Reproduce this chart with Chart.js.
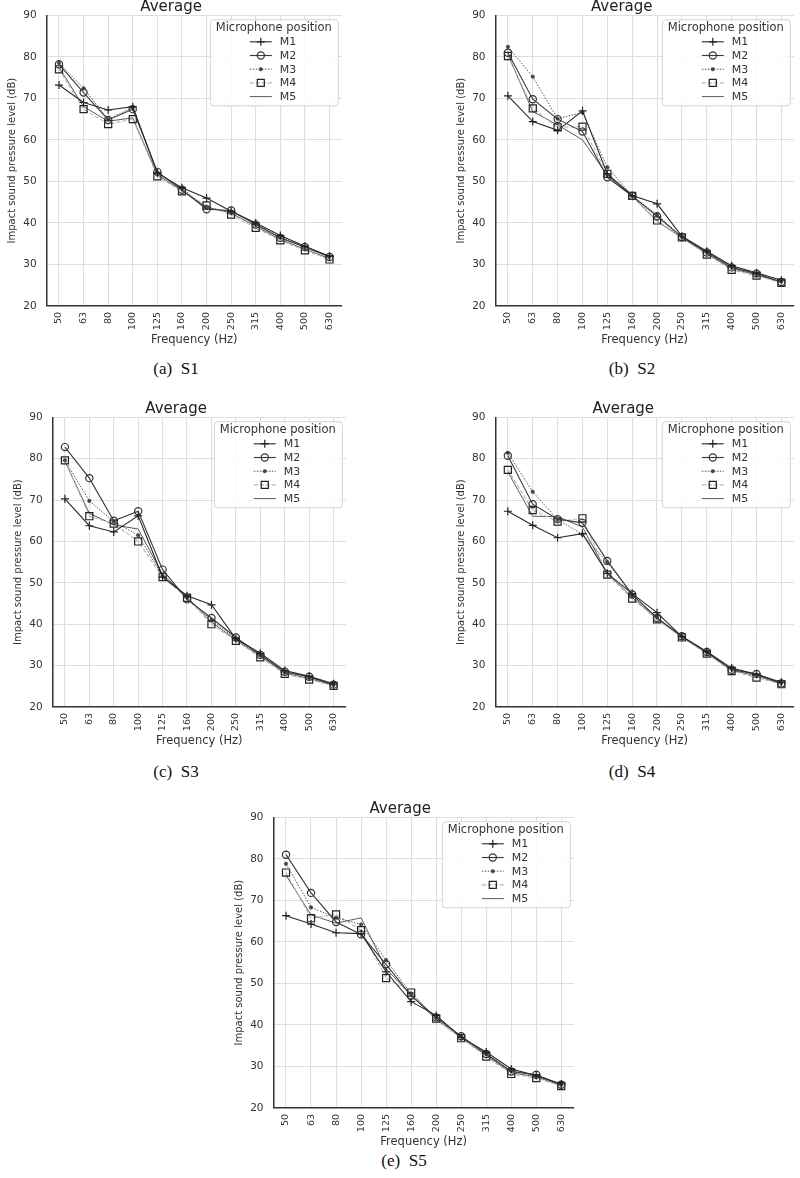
<!DOCTYPE html>
<html>
<head>
<meta charset="utf-8">
<script src="https://cdn.jsdelivr.net/npm/chart.js@4.4.1/dist/chart.umd.min.js"></script>
<style>
  html, body { margin: 0; padding: 0; background: #fff; }
  body { position: relative; width: 800px; height: 1178px; overflow: hidden; }
  canvas { position: absolute; }
  .cap { position: absolute; font-family: "Liberation Serif", "Times New Roman", serif; font-size: 17px;
         line-height: 20px; color: #111; white-space: pre; transform: translateX(-50%); }
</style>
</head>
<body>
<script>
// frequency bands (Hz)
const freqs = ['50', '63', '80', '100', '125', '160', '200', '250', '315', '400', '500', '630'];
const micNames = ['M1', 'M2', 'M3', 'M4', 'M5'];

// S1
const s1M1 = [73.2, 69.0, 67.2, 68.0, 52.0, 48.5, 46.0, 42.8, 40.0, 37.0, 34.4, 32.0];
const s1M2 = [78.2, 71.4, 64.8, 67.4, 52.3, 48.0, 43.3, 43.0, 39.6, 36.4, 34.2, 31.8];
const s1M3 = [78.5, 72.4, 65.0, 67.8, 52.2, 48.3, 43.6, 42.8, 39.8, 36.6, 34.2, 31.9];
const s1M4 = [77.0, 67.4, 63.8, 65.0, 51.2, 47.6, 44.2, 42.0, 38.8, 35.8, 33.4, 31.2];
const s1M5 = [77.5, 68.0, 64.5, 65.3, 51.6, 47.8, 43.8, 42.4, 39.2, 36.0, 33.7, 31.4];
// S2
const s2M1 = [70.6, 64.4, 62.3, 67.0, 51.8, 46.6, 44.6, 36.8, 33.2, 29.7, 28.0, 26.2];
const s2M2 = [81.0, 69.8, 65.0, 62.0, 51.0, 46.5, 41.6, 36.6, 32.9, 29.3, 27.8, 25.8];
const s2M3 = [82.4, 75.2, 65.1, 66.6, 53.4, 46.5, 42.0, 36.6, 33.0, 29.4, 27.7, 25.9];
const s2M4 = [80.2, 67.6, 63.0, 63.2, 51.8, 46.5, 40.6, 36.5, 32.4, 28.7, 27.3, 25.6];
const s2M5 = [80.5, 66.8, 63.6, 60.0, 51.5, 46.4, 40.4, 36.4, 32.6, 29.0, 27.5, 25.7];
// S3
const s3M1 = [70.3, 63.8, 62.3, 66.2, 51.4, 46.9, 44.7, 36.5, 33.0, 28.8, 27.4, 25.6];
const s3M2 = [82.8, 75.3, 65.0, 67.3, 53.2, 46.0, 41.5, 36.8, 32.6, 28.5, 27.3, 25.4];
const s3M3 = [79.6, 69.8, 64.8, 61.5, 51.6, 46.5, 41.0, 36.5, 32.5, 28.4, 27.2, 25.3];
const s3M4 = [79.6, 66.1, 64.3, 60.0, 51.4, 46.4, 40.0, 36.0, 32.0, 28.0, 26.6, 25.1];
const s3M5 = [79.4, 66.8, 64.0, 63.0, 52.0, 46.6, 40.5, 36.2, 32.3, 28.2, 26.9, 25.2];
// S4
const s4M1 = [67.3, 63.9, 60.9, 61.9, 52.3, 47.4, 42.8, 37.0, 33.4, 29.4, 27.9, 26.0];
const s4M2 = [80.7, 69.0, 65.4, 64.5, 55.3, 47.2, 41.5, 37.1, 33.3, 29.0, 28.0, 25.7];
const s4M3 = [81.4, 72.0, 65.3, 61.7, 55.0, 47.0, 41.6, 37.0, 33.2, 29.2, 27.8, 25.8];
const s4M4 = [77.3, 67.6, 64.8, 65.6, 52.0, 46.2, 41.2, 36.8, 32.9, 28.7, 27.1, 25.5];
const s4M5 = [76.8, 66.1, 66.0, 63.5, 52.3, 46.5, 41.3, 36.9, 33.0, 28.9, 27.5, 25.6];
// S5
const s5M1 = [66.3, 64.3, 62.2, 62.0, 52.8, 45.6, 42.3, 37.0, 33.5, 29.4, 27.8, 25.8];
const s5M2 = [81.0, 71.8, 64.8, 61.8, 54.6, 47.0, 41.8, 37.3, 33.0, 28.8, 28.0, 25.6];
const s5M3 = [78.8, 68.3, 65.8, 64.2, 55.6, 47.5, 41.7, 37.2, 33.0, 28.9, 27.8, 25.6];
const s5M4 = [76.7, 65.7, 66.6, 62.8, 51.3, 47.8, 41.5, 36.8, 32.4, 28.2, 27.2, 25.3];
const s5M5 = [76.0, 66.5, 64.5, 65.8, 53.5, 47.2, 41.3, 36.9, 32.7, 28.5, 27.5, 25.4];

const FONT = '"DejaVu Sans", Verdana, sans-serif';

// line look per microphone
const micStyles = [
    {borderColor: '#2a2a2a', borderWidth: 1.1, borderDash: [], pointStyle: 'cross', pointRadius: 4, pointBorderColor: '#222', pointBackgroundColor: '#222', pointBorderWidth: 1.2},
    {borderColor: '#3a3a3a', borderWidth: 1.1, borderDash: [], pointStyle: 'circle', pointRadius: 3.6, pointBorderColor: '#333', pointBackgroundColor: 'rgba(255,255,255,0)', pointBorderWidth: 1.2},
    {borderColor: '#555', borderWidth: 1, borderDash: [1.5, 1.5], pointStyle: 'circle', pointRadius: 1.8, pointBorderColor: '#444', pointBackgroundColor: '#444', pointBorderWidth: 0.5},
    {borderColor: '#b5b5b5', borderWidth: 1.1, borderDash: [4, 2], pointStyle: 'rect', pointRadius: 5, pointBorderColor: '#222', pointBackgroundColor: 'rgba(255,255,255,0)', pointBorderWidth: 1.2},
    {borderColor: '#5a5a5a', borderWidth: 1, borderDash: [], pointStyle: false, pointRadius: 0, pointBorderColor: '#555', pointBackgroundColor: '#555', pointBorderWidth: 0}
];

const panels = [
    {cap: '(a)  S1', series: [s1M1, s1M2, s1M3, s1M4, s1M5], L: 0,   R: 348, pl: 46.7,  pr: 342.3, pt: 15,  pb: 306,  capX: 176, capY: 369},
    {cap: '(b)  S2', series: [s2M1, s2M2, s2M3, s2M4, s2M5], L: 448, R: 800, pl: 495.5, pr: 795.5, pt: 15,  pb: 306,  capX: 632, capY: 369},
    {cap: '(c)  S3', series: [s3M1, s3M2, s3M3, s3M4, s3M5], L: 5,   R: 352, pl: 52.7,  pr: 347.3, pt: 417, pb: 707,  capX: 176, capY: 772},
    {cap: '(d)  S4', series: [s4M1, s4M2, s4M3, s4M4, s4M5], L: 448, R: 800, pl: 495.4, pr: 798.6, pt: 417, pb: 707,  capX: 632, capY: 772},
    {cap: '(e)  S5', series: [s5M1, s5M2, s5M3, s5M4, s5M5], L: 226, R: 580, pl: 273.5, pr: 574.5, pt: 817, pb: 1108, capX: 404, capY: 1161}
];

function drawMarker(ctx, st, x, y)
{
    const r = st.pointRadius;
    ctx.save();
    ctx.strokeStyle = st.pointBorderColor;
    ctx.fillStyle = st.pointBackgroundColor;
    ctx.lineWidth = st.pointBorderWidth;
    ctx.setLineDash([]);
    ctx.beginPath();
    if (st.pointStyle === 'cross') {
        ctx.moveTo(x - r, y); ctx.lineTo(x + r, y);
        ctx.moveTo(x, y - r); ctx.lineTo(x, y + r);
        ctx.stroke();
    } else if (st.pointStyle === 'circle') {
        ctx.arc(x, y, r, 0, Math.PI * 2);
        ctx.fill(); ctx.stroke();
    } else if (st.pointStyle === 'rect') {
        const s = r * Math.SQRT1_2;
        ctx.rect(x - s, y - s, 2 * s, 2 * s);
        ctx.fill(); ctx.stroke();
    }
    ctx.restore();
}

// legend box drawn inside the plot, top right
const micLegend = {
    id: 'micLegend',
    afterDraw(chart) {
        const ctx = chart.ctx;
        const ca = chart.chartArea;
        const w = 128, h = 86;
        const bx = ca.right - 4 - w, by = ca.top + 4;
        ctx.save();
        ctx.beginPath();
        ctx.roundRect(bx + 0.5, by + 0.5, w, h, 3);
        ctx.fillStyle = 'rgba(255,255,255,0.85)';
        ctx.fill();
        ctx.strokeStyle = '#d2d2d2';
        ctx.lineWidth = 1;
        ctx.stroke();
        ctx.fillStyle = '#333';
        ctx.textBaseline = 'middle';
        ctx.textAlign = 'center';
        ctx.font = '11.5px ' + FONT;
        ctx.fillText('Microphone position', bx + w / 2, by + 9);
        ctx.textAlign = 'left';
        ctx.font = '11px ' + FONT;
        chart.data.datasets.forEach((ds, i) => {
            const y = by + 22.5 + i * 13.7;
            const st = micStyles[i];
            ctx.save();
            ctx.strokeStyle = st.borderColor;
            ctx.lineWidth = st.borderWidth;
            ctx.setLineDash(st.borderDash);
            ctx.beginPath();
            ctx.moveTo(bx + 40, y);
            ctx.lineTo(bx + 62, y);
            ctx.stroke();
            ctx.restore();
            if (st.pointStyle) drawMarker(ctx, st, bx + 51, y);
            ctx.fillStyle = '#333';
            ctx.fillText(ds.label, bx + 70, y + 0.5);
        });
        ctx.restore();
    }
};

panels.forEach(p => {
    const top = p.pt - 16;
    const bottom = p.pb + 41;
    const canvas = document.createElement('canvas');
    canvas.width = p.R - p.L;
    canvas.height = bottom - top;
    canvas.style.left = p.L + 'px';
    canvas.style.top = top + 'px';
    canvas.style.width = (p.R - p.L) + 'px';
    canvas.style.height = (bottom - top) + 'px';
    document.body.appendChild(canvas);

    const cap = document.createElement('div');
    cap.className = 'cap';
    cap.textContent = p.cap;
    cap.style.left = p.capX + 'px';
    cap.style.top = (p.capY - 10) + 'px';
    document.body.appendChild(cap);

    const yAxisW = p.pl - p.L;

    new Chart(canvas, {
        type: 'line',
        data: {
            labels: freqs,
            datasets: p.series.map((vals, i) => Object.assign({
                label: micNames[i],
                data: vals,
                fill: false,
                tension: 0
            }, micStyles[i]))
        },
        options: {
            responsive: false,
            devicePixelRatio: 1,
            animation: false,
            layout: {padding: {left: 0, top: 0, bottom: 0, right: p.R - p.pr}},
            plugins: {
                legend: {display: false},
                tooltip: {enabled: false},
                title: {
                    display: true,
                    text: 'Average',
                    color: '#222',
                    font: {family: FONT, size: 15, weight: 'normal', lineHeight: 1},
                    padding: {top: 0, bottom: 1}
                }
            },
            scales: {
                x: {
                    type: 'category',
                    offset: true,
                    grid: {color: '#dedede', lineWidth: 1.1, drawTicks: false},
                    border: {display: true, color: '#333', width: 1.5},
                    ticks: {autoSkip: false, maxRotation: 90, minRotation: 90, padding: 6, color: '#333',
                            font: {family: FONT, size: 9.5}},
                    title: {display: true, text: 'Frequency (Hz)', color: '#333', padding: 0,
                            font: {family: FONT, size: 11.5, lineHeight: 1.2}},
                    afterFit: s => { s.height = 41; }
                },
                y: {
                    min: 20,
                    max: 90,
                    grid: {color: '#dedede', lineWidth: 1.1, drawTicks: false},
                    border: {display: true, color: '#333', width: 1.5},
                    ticks: {stepSize: 10, padding: 10, color: '#333', font: {family: FONT, size: 10.5}},
                    title: {display: true, text: 'Impact sound pressure level (dB)', color: '#333',
                            padding: {top: yAxisW - 40, bottom: 0},
                            font: {family: FONT, size: 10, lineHeight: 1.2}},
                    afterFit: s => { s.width = yAxisW; }
                }
            }
        },
        plugins: [micLegend]
    });
});
</script>
</body>
</html>
